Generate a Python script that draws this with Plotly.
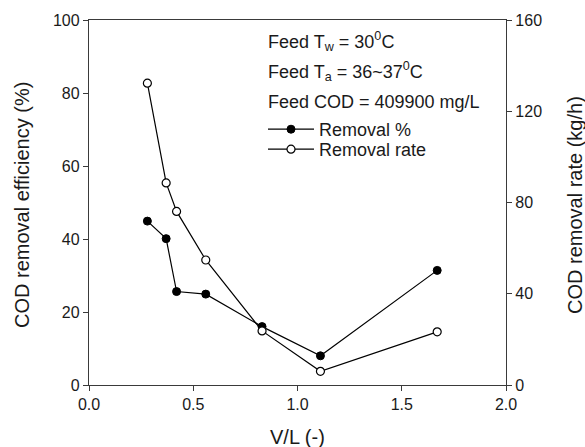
import plotly.graph_objects as go

# V/L ratio and the two measured responses
vl_ratio = [0.28, 0.37, 0.42, 0.56, 0.83, 1.11, 1.67]
removal_pct = [44.9, 40.1, 25.6, 24.9, 16.0, 8.0, 31.4]
removal_rate = [132.3, 88.6, 76.1, 54.8, 23.7, 6.0, 23.3]

x_ticks = [0.0, 0.5, 1.0, 1.5, 2.0]
x_tick_text = ["0.0", "0.5", "1.0", "1.5", "2.0"]
y1_ticks = [0, 20, 40, 60, 80, 100]
y2_ticks = [0, 40, 80, 120, 160]

x_title = "V/L (-)"
y1_title = "COD removal efficiency (%)"
y2_title = "COD removal rate (kg/h)"

feed_notes = [
    "Feed T<sub>w</sub> = 30<sup>0</sup>C",
    "Feed T<sub>a</sub> = 36~37<sup>0</sup>C",
    "Feed COD = 409900 mg/L",
]

FONT = "Liberation Sans, Arial, sans-serif"
AXIS_COLOR = "#3a3a3a"
TEXT_COLOR = "#1a1a1a"

fig = go.Figure()
fig.add_trace(go.Scatter(
    x=vl_ratio, y=removal_pct, name="Removal %", mode="lines+markers",
    line=dict(color="black", width=1.2),
    marker=dict(symbol="circle", size=8, color="black", line=dict(color="black", width=1)),
    yaxis="y", legend="legend",
))
fig.add_trace(go.Scatter(
    x=vl_ratio, y=removal_rate, name="Removal rate", mode="lines+markers",
    line=dict(color="black", width=1.2),
    marker=dict(symbol="circle", size=8, color="white", line=dict(color="black", width=1.2)),
    yaxis="y2", legend="legend2",
))

W, H = 585, 447
ml, mr, mt, mb = 89, 79, 20, 62
pw = W - ml - mr
ph = H - mt - mb


def px_x(p):
    return (p - ml) / pw


def px_y(p):
    return (H - mb - p) / ph


annotations = []
for txt, yy in zip(feed_notes, [41, 72, 101.5]):
    annotations.append(dict(
        text=txt, xref="paper", yref="paper", x=px_x(266), y=px_y(yy),
        xanchor="left", yanchor="middle", showarrow=False,
        font=dict(family=FONT, size=18, color=TEXT_COLOR),
    ))

# axis titles placed as free text so the plot frame stays fixed
title_font = dict(family=FONT, size=20, color=TEXT_COLOR)
annotations += [
    dict(text=y1_title, xref="paper", yref="paper", x=px_x(22), y=px_y(205),
         xanchor="center", yanchor="middle", textangle=-90, showarrow=False, font=title_font),
    dict(text=y2_title, xref="paper", yref="paper", x=px_x(575), y=px_y(205),
         xanchor="center", yanchor="middle", textangle=-90, showarrow=False, font=title_font),
    dict(text=x_title, xref="paper", yref="paper", x=px_x(297), y=px_y(437),
         xanchor="center", yanchor="middle", showarrow=False, font=title_font),
]

axis_common = dict(
    showgrid=False, zeroline=False, showline=True, linecolor=AXIS_COLOR, linewidth=1.3,
    ticks="outside", ticklen=5, tickwidth=1.2, tickcolor=AXIS_COLOR,
    tickfont=dict(family=FONT, size=16, color=TEXT_COLOR), automargin=False,
)

legend_common = dict(
    xanchor="left", yanchor="top",
    bgcolor="rgba(0,0,0,0)", borderwidth=0,
    font=dict(family=FONT, size=18, color=TEXT_COLOR),
    tracegroupgap=0, itemwidth=46,
)

fig.update_layout(
    width=W, height=H,
    margin=dict(l=ml, r=mr, t=mt, b=mb),
    paper_bgcolor="white", plot_bgcolor="white",
    font=dict(family=FONT, size=16, color=TEXT_COLOR),
    xaxis=dict(range=[0, 2], tickvals=x_ticks, ticktext=x_tick_text, mirror=True, **axis_common),
    yaxis=dict(range=[0, 100], tickvals=y1_ticks, **axis_common),
    yaxis2=dict(range=[0, 160], tickvals=y2_ticks, overlaying="y", side="right", **axis_common),
    legend=dict(x=px_x(263), y=px_y(111), **legend_common),
    legend2=dict(x=px_x(263), y=px_y(131), **legend_common),
    showlegend=True,
    annotations=annotations,
)

fig.write_html("out.html")
